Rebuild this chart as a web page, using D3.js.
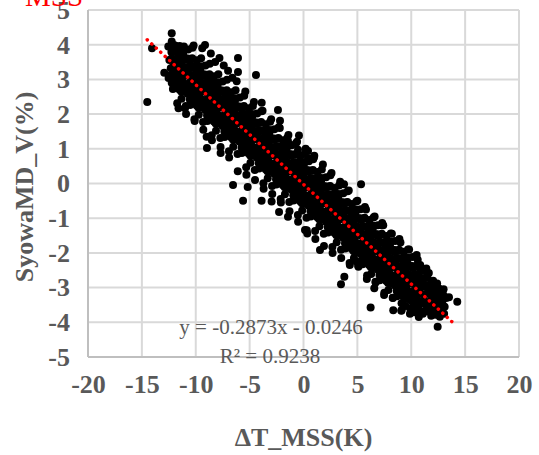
<!DOCTYPE html>
<html>
<head>
<meta charset="utf-8">
<script src="https://cdn.jsdelivr.net/npm/d3@7"></script>
<style>
  body { margin: 0; background: #fff; }
</style>
</head>
<body>
<script>
// tick values
var xTicks = [-20, -15, -10, -5, 0, 5, 10, 15, 20];
var yTicks = [-5, -4, -3, -2, -1, 0, 1, 2, 3, 4, 5];

// linear fit shown on the chart
var fitSlope = -0.2873;
var fitIntercept = -0.0246;
var fitR2 = 0.9238;
var fitRange = [-14.5, 14];

// dT_MSS (K), SyowaMD_V (%) - main band
var cloud = [
  [-12.52,3.04],[-12.32,3.32],[-12.45,3.56],[-12.26,3.79],[-12.55,3.95],
  [-12.12,2.72],[-11.92,3.04],[-12.05,3.30],[-11.86,3.54],[-12.15,3.78],[-11.97,3.98],
  [-11.72,2.31],[-11.52,2.71],[-11.65,3.01],[-11.46,3.26],[-11.75,3.49],[-11.57,3.73],[-11.50,3.96],
  [-11.32,2.44],[-11.12,2.74],[-11.25,3.04],[-11.06,3.27],[-11.35,3.49],[-11.17,3.74],[-11.10,3.95],
  [-10.92,2.23],[-10.72,2.58],[-10.85,2.86],[-10.66,3.10],[-10.95,3.33],[-10.77,3.56],[-10.70,3.86],
  [-10.52,2.26],[-10.32,2.58],[-10.45,2.84],[-10.26,3.08],[-10.55,3.32],[-10.37,3.58],[-10.30,3.91],
  [-10.12,1.85],[-9.92,2.25],[-10.05,2.55],[-9.86,2.80],[-10.15,3.03],[-9.97,3.27],[-9.90,3.55],
  [-9.72,1.98],[-9.52,2.28],[-9.65,2.58],[-9.46,2.81],[-9.75,3.03],[-9.57,3.28],[-9.50,3.61],
  [-9.32,1.77],[-9.12,2.12],[-9.25,2.40],[-9.06,2.64],[-9.35,2.87],[-9.17,3.10],[-9.10,3.40],
  [-8.92,1.80],[-8.72,2.12],[-8.85,2.38],[-8.66,2.62],[-8.95,2.86],[-8.77,3.12],[-8.70,3.45],
  [-8.52,1.39],[-8.32,1.79],[-8.45,2.09],[-8.26,2.34],[-8.55,2.57],[-8.37,2.81],[-8.30,3.09],
  [-8.12,1.52],[-7.92,1.82],[-8.05,2.12],[-7.86,2.35],[-8.15,2.57],[-7.97,2.82],[-7.90,3.15],
  [-7.72,1.31],[-7.52,1.66],[-7.65,1.94],[-7.46,2.18],[-7.75,2.41],[-7.57,2.64],[-7.50,2.94],
  [-7.32,1.34],[-7.12,1.66],[-7.25,1.92],[-7.06,2.16],[-7.35,2.40],[-7.17,2.66],[-7.10,2.99],
  [-6.92,0.93],[-6.72,1.33],[-6.85,1.63],[-6.66,1.88],[-6.95,2.11],[-6.77,2.35],[-6.70,2.63],
  [-6.52,1.06],[-6.32,1.36],[-6.45,1.66],[-6.26,1.89],[-6.55,2.11],[-6.37,2.36],[-6.30,2.69],
  [-6.12,0.85],[-5.92,1.20],[-6.05,1.48],[-5.86,1.72],[-6.15,1.95],[-5.97,2.18],[-5.90,2.48],
  [-5.72,0.88],[-5.52,1.20],[-5.65,1.46],[-5.46,1.70],[-5.75,1.94],[-5.57,2.20],[-5.50,2.53],
  [-5.32,0.47],[-5.12,0.87],[-5.25,1.17],[-5.06,1.42],[-5.35,1.65],[-5.17,1.89],[-5.10,2.17],
  [-4.92,0.60],[-4.72,0.90],[-4.85,1.20],[-4.66,1.43],[-4.95,1.65],[-4.77,1.90],[-4.70,2.23],
  [-4.52,0.39],[-4.32,0.74],[-4.45,1.02],[-4.26,1.26],[-4.55,1.49],[-4.37,1.72],[-4.30,2.02],
  [-4.12,0.43],[-3.92,0.75],[-4.05,1.01],[-3.86,1.25],[-4.15,1.49],[-3.97,1.75],[-3.90,2.08],
  [-3.72,0.01],[-3.52,0.41],[-3.65,0.71],[-3.46,0.96],[-3.75,1.19],[-3.57,1.43],[-3.50,1.71],
  [-3.32,0.15],[-3.12,0.45],[-3.25,0.75],[-3.06,0.98],[-3.35,1.20],[-3.17,1.45],[-3.10,1.78],
  [-2.92,-0.07],[-2.72,0.28],[-2.85,0.56],[-2.66,0.80],[-2.95,1.03],[-2.77,1.26],[-2.70,1.56],
  [-2.52,-0.03],[-2.32,0.29],[-2.45,0.55],[-2.26,0.79],[-2.55,1.03],[-2.37,1.29],[-2.30,1.62],
  [-2.12,-0.45],[-1.92,-0.05],[-2.05,0.25],[-1.86,0.50],[-2.15,0.73],[-1.97,0.97],[-1.90,1.25],
  [-1.72,-0.31],[-1.52,-0.01],[-1.65,0.29],[-1.46,0.52],[-1.75,0.74],[-1.57,0.99],[-1.50,1.32],
  [-1.32,-0.53],[-1.12,-0.18],[-1.25,0.10],[-1.06,0.34],[-1.35,0.57],[-1.17,0.80],[-1.10,1.10],
  [-0.92,-0.49],[-0.72,-0.17],[-0.85,0.09],[-0.66,0.33],[-0.95,0.57],[-0.77,0.83],[-0.70,1.16],
  [-0.52,-0.91],[-0.32,-0.51],[-0.45,-0.21],[-0.26,0.04],[-0.55,0.27],[-0.37,0.51],[-0.30,0.79],
  [-0.12,-0.78],[0.08,-0.48],[-0.05,-0.18],[0.14,0.05],[-0.15,0.27],[0.03,0.52],[0.10,0.85],
  [0.28,-0.99],[0.48,-0.64],[0.35,-0.36],[0.54,-0.12],[0.25,0.11],[0.43,0.34],[0.50,0.64],
  [0.68,-0.95],[0.88,-0.63],[0.75,-0.37],[0.94,-0.13],[0.65,0.11],[0.83,0.37],[0.90,0.70],
  [1.08,-1.37],[1.28,-0.97],[1.15,-0.67],[1.34,-0.42],[1.05,-0.19],[1.23,0.05],[1.30,0.33],
  [1.48,-1.23],[1.68,-0.93],[1.55,-0.63],[1.74,-0.40],[1.45,-0.18],[1.63,0.07],[1.70,0.40],
  [1.88,-1.45],[2.08,-1.10],[1.95,-0.82],[2.14,-0.58],[1.85,-0.35],[2.03,-0.12],[2.10,0.18],
  [2.28,-1.41],[2.48,-1.09],[2.35,-0.83],[2.54,-0.59],[2.25,-0.35],[2.43,-0.09],[2.50,0.24],
  [2.68,-1.83],[2.88,-1.43],[2.75,-1.13],[2.94,-0.88],[2.65,-0.65],[2.83,-0.41],[2.90,-0.13],
  [3.08,-1.69],[3.28,-1.39],[3.15,-1.09],[3.34,-0.86],[3.05,-0.64],[3.23,-0.39],[3.30,-0.06],
  [3.48,-1.91],[3.68,-1.56],[3.55,-1.28],[3.74,-1.04],[3.45,-0.81],[3.63,-0.58],[3.70,-0.28],
  [3.88,-1.87],[4.08,-1.55],[3.95,-1.29],[4.14,-1.05],[3.85,-0.81],[4.03,-0.55],[4.10,-0.22],
  [4.28,-2.29],[4.48,-1.89],[4.35,-1.59],[4.54,-1.34],[4.25,-1.11],[4.43,-0.87],[4.50,-0.59],
  [4.68,-2.15],[4.88,-1.85],[4.75,-1.55],[4.94,-1.32],[4.65,-1.10],[4.83,-0.85],[4.90,-0.52],
  [5.08,-2.37],[5.28,-2.02],[5.15,-1.74],[5.34,-1.50],[5.05,-1.27],[5.23,-1.04],[5.30,-0.74],
  [5.48,-2.33],[5.68,-2.01],[5.55,-1.75],[5.74,-1.51],[5.45,-1.27],[5.63,-1.01],[5.70,-0.68],
  [5.88,-2.75],[6.08,-2.35],[5.95,-2.05],[6.14,-1.80],[5.85,-1.57],[6.03,-1.33],[6.10,-1.05],
  [6.28,-2.61],[6.48,-2.31],[6.35,-2.01],[6.54,-1.78],[6.25,-1.56],[6.43,-1.31],[6.50,-0.98],
  [6.68,-2.83],[6.88,-2.48],[6.75,-2.20],[6.94,-1.96],[6.65,-1.73],[6.83,-1.50],[6.90,-1.20],
  [7.08,-2.79],[7.28,-2.47],[7.15,-2.21],[7.34,-1.97],[7.05,-1.73],[7.23,-1.47],[7.30,-1.14],
  [7.48,-3.21],[7.68,-2.81],[7.55,-2.51],[7.74,-2.26],[7.45,-2.03],[7.63,-1.79],[7.70,-1.51],
  [7.88,-3.07],[8.08,-2.77],[7.95,-2.47],[8.14,-2.24],[7.85,-2.02],[8.03,-1.77],[8.10,-1.44],
  [8.28,-3.29],[8.48,-2.94],[8.35,-2.66],[8.54,-2.42],[8.25,-2.19],[8.43,-1.96],[8.50,-1.66],
  [8.68,-3.25],[8.88,-2.93],[8.75,-2.67],[8.94,-2.43],[8.65,-2.19],[8.83,-1.93],[8.90,-1.60],
  [9.08,-3.67],[9.28,-3.27],[9.15,-2.97],[9.34,-2.72],[9.05,-2.49],[9.23,-2.25],[9.30,-1.97],
  [9.48,-3.53],[9.68,-3.23],[9.55,-2.93],[9.74,-2.70],[9.45,-2.48],[9.63,-2.23],[9.70,-1.90],
  [9.88,-3.75],[10.08,-3.40],[9.95,-3.12],[10.14,-2.88],[9.85,-2.65],[10.03,-2.42],[10.10,-2.12],
  [10.28,-3.71],[10.48,-3.39],[10.35,-3.13],[10.54,-2.89],[10.25,-2.65],[10.43,-2.39],[10.50,-2.06],
  [10.68,-3.75],[10.88,-3.40],[10.75,-3.15],[10.94,-2.90],[10.65,-2.65],[10.83,-2.35],
  [11.08,-3.75],[11.28,-3.48],[11.15,-3.22],[11.34,-2.98],[11.05,-2.75],[11.23,-2.52],
  [11.48,-3.68],[11.68,-3.42],[11.55,-3.18],[11.74,-2.95],[11.45,-2.72],[11.63,-2.58],
  [11.88,-3.70],[12.08,-3.45],[11.95,-3.22],[12.14,-2.98],[12.03,-2.80],
  [12.28,-3.72],[12.48,-3.48],[12.35,-3.25],[12.54,-3.02],[12.40,-2.88],
  [12.70,-3.70],[12.88,-3.45],[12.95,-3.20],
  [13.10,-3.55],[13.25,-3.30],[13.50,-3.28],[13.00,-3.05],
  // wider edges of the band
  [-10.90,2.00],[-10.20,3.98],[-10.10,1.80],[-9.40,3.90],[-9.30,1.55],[-8.60,3.75],[-8.50,1.25],
  [-7.80,3.62],[-7.70,1.05],[-8.20,3.50],[-7.00,3.25],[-6.90,0.75],[-7.40,3.40],[-6.20,2.95],
  [-6.10,0.35],[-6.60,3.05],[-5.40,2.65],[-5.30,0.25],[-4.60,2.35],[-4.50,0.10],[-3.80,2.10],
  [-3.70,-0.15],[-3.00,1.85],[-2.90,-0.30],[-2.20,1.60],[-2.10,-0.55],[-1.40,1.40],[-1.30,-0.80],
  [-0.60,1.20],[-0.50,-1.10],[0.20,1.00],[0.30,-1.35],[1.00,0.80],[1.10,-1.60],[1.80,0.55],
  [1.90,-1.80],[2.60,0.30],[2.70,-2.00],[3.40,0.05],[3.50,-2.15],[4.20,-0.20],[4.30,-2.35],
  [5.00,-0.50],[5.10,-2.40],[5.80,-0.75],[5.90,-2.65],[6.60,-0.95],[6.70,-2.85],[7.40,-1.20],
  [7.50,-3.15],[8.20,-1.45],[8.30,-3.30],[9.00,-1.70],[9.10,-3.45],[9.80,-1.90],[9.90,-3.60],
  [10.60,-2.20],[10.70,-3.85],[11.40,-2.45]
];

// dense core of the band
var core = [
  [-12.15,2.88],[-12.30,3.13],[-12.08,3.38],[-12.24,3.60],[-12.11,3.84],[-12.33,3.96],
  [-11.75,2.87],[-11.90,3.12],[-11.68,3.35],[-11.84,3.59],[-11.71,3.83],[-11.93,3.98],
  [-11.35,2.65],[-11.50,2.90],[-11.28,3.15],[-11.44,3.37],[-11.31,3.61],[-11.53,3.83],
  [-10.95,2.64],[-11.10,2.89],[-10.88,3.12],[-11.04,3.36],[-10.91,3.60],[-11.13,3.84],
  [-10.55,2.42],[-10.70,2.67],[-10.48,2.92],[-10.64,3.14],[-10.51,3.38],[-10.73,3.60],
  [-10.15,2.41],[-10.30,2.66],[-10.08,2.89],[-10.24,3.13],[-10.11,3.37],[-10.33,3.61],
  [-9.75,2.19],[-9.90,2.44],[-9.68,2.69],[-9.84,2.91],[-9.71,3.15],[-9.93,3.37],
  [-9.35,2.18],[-9.50,2.43],[-9.28,2.66],[-9.44,2.90],[-9.31,3.14],[-9.53,3.38],
  [-8.95,1.96],[-9.10,2.21],[-8.88,2.46],[-9.04,2.68],[-8.91,2.92],[-9.13,3.14],
  [-8.55,1.95],[-8.70,2.20],[-8.48,2.43],[-8.64,2.67],[-8.51,2.91],[-8.73,3.15],
  [-8.15,1.73],[-8.30,1.98],[-8.08,2.23],[-8.24,2.45],[-8.11,2.69],[-8.33,2.91],
  [-7.75,1.72],[-7.90,1.97],[-7.68,2.20],[-7.84,2.44],[-7.71,2.68],[-7.93,2.92],
  [-7.35,1.50],[-7.50,1.75],[-7.28,2.00],[-7.44,2.22],[-7.31,2.46],[-7.53,2.68],
  [-6.95,1.49],[-7.10,1.74],[-6.88,1.97],[-7.04,2.21],[-6.91,2.45],[-7.13,2.69],
  [-6.55,1.27],[-6.70,1.52],[-6.48,1.77],[-6.64,1.99],[-6.51,2.23],[-6.73,2.45],
  [-6.15,1.26],[-6.30,1.51],[-6.08,1.74],[-6.24,1.98],[-6.11,2.22],[-6.33,2.46],
  [-5.75,1.04],[-5.90,1.29],[-5.68,1.54],[-5.84,1.76],[-5.71,2.00],[-5.93,2.22],
  [-5.35,1.03],[-5.50,1.28],[-5.28,1.51],[-5.44,1.75],[-5.31,1.99],[-5.53,2.23],
  [-4.95,0.81],[-5.10,1.06],[-4.88,1.31],[-5.04,1.53],[-4.91,1.77],[-5.13,1.99],
  [-4.55,0.80],[-4.70,1.05],[-4.48,1.28],[-4.64,1.52],[-4.51,1.76],[-4.73,2.00],
  [-4.15,0.58],[-4.30,0.83],[-4.08,1.08],[-4.24,1.30],[-4.11,1.54],[-4.33,1.76],
  [-3.75,0.57],[-3.90,0.82],[-3.68,1.05],[-3.84,1.29],[-3.71,1.53],[-3.93,1.77],
  [-3.35,0.35],[-3.50,0.60],[-3.28,0.85],[-3.44,1.07],[-3.31,1.31],[-3.53,1.53],
  [-2.95,0.34],[-3.10,0.59],[-2.88,0.82],[-3.04,1.06],[-2.91,1.30],[-3.13,1.54],
  [-2.55,0.12],[-2.70,0.37],[-2.48,0.62],[-2.64,0.84],[-2.51,1.08],[-2.73,1.30],
  [-2.15,0.11],[-2.30,0.36],[-2.08,0.59],[-2.24,0.83],[-2.11,1.07],[-2.33,1.31],
  [-1.75,-0.11],[-1.90,0.14],[-1.68,0.39],[-1.84,0.61],[-1.71,0.85],[-1.93,1.07],
  [-1.35,-0.12],[-1.50,0.13],[-1.28,0.36],[-1.44,0.60],[-1.31,0.84],[-1.53,1.08],
  [-0.95,-0.34],[-1.10,-0.09],[-0.88,0.16],[-1.04,0.38],[-0.91,0.62],[-1.13,0.84],
  [-0.55,-0.35],[-0.70,-0.10],[-0.48,0.13],[-0.64,0.37],[-0.51,0.61],[-0.73,0.85],
  [-0.15,-0.57],[-0.30,-0.32],[-0.08,-0.07],[-0.24,0.15],[-0.11,0.39],[-0.33,0.61],
  [0.25,-0.58],[0.10,-0.33],[0.32,-0.10],[0.16,0.14],[0.29,0.38],[0.07,0.62],
  [0.65,-0.80],[0.50,-0.55],[0.72,-0.30],[0.56,-0.08],[0.69,0.16],[0.47,0.38],
  [1.05,-0.81],[0.90,-0.56],[1.12,-0.33],[0.96,-0.09],[1.09,0.15],[0.87,0.39],
  [1.45,-1.03],[1.30,-0.78],[1.52,-0.53],[1.36,-0.31],[1.49,-0.07],[1.27,0.15],
  [1.85,-1.04],[1.70,-0.79],[1.92,-0.56],[1.76,-0.32],[1.89,-0.08],[1.67,0.16],
  [2.25,-1.26],[2.10,-1.01],[2.32,-0.76],[2.16,-0.54],[2.29,-0.30],[2.07,-0.08],
  [2.65,-1.27],[2.50,-1.02],[2.72,-0.79],[2.56,-0.55],[2.69,-0.31],[2.47,-0.07],
  [3.05,-1.49],[2.90,-1.24],[3.12,-0.99],[2.96,-0.77],[3.09,-0.53],[2.87,-0.31],
  [3.45,-1.50],[3.30,-1.25],[3.52,-1.02],[3.36,-0.78],[3.49,-0.54],[3.27,-0.30],
  [3.85,-1.72],[3.70,-1.47],[3.92,-1.22],[3.76,-1.00],[3.89,-0.76],[3.67,-0.54],
  [4.25,-1.73],[4.10,-1.48],[4.32,-1.25],[4.16,-1.01],[4.29,-0.77],[4.07,-0.53],
  [4.65,-1.95],[4.50,-1.70],[4.72,-1.45],[4.56,-1.23],[4.69,-0.99],[4.47,-0.77],
  [5.05,-1.96],[4.90,-1.71],[5.12,-1.48],[4.96,-1.24],[5.09,-1.00],[4.87,-0.76],
  [5.45,-2.18],[5.30,-1.93],[5.52,-1.68],[5.36,-1.46],[5.49,-1.22],[5.27,-1.00],
  [5.85,-2.19],[5.70,-1.94],[5.92,-1.71],[5.76,-1.47],[5.89,-1.23],[5.67,-0.99],
  [6.25,-2.41],[6.10,-2.16],[6.32,-1.91],[6.16,-1.69],[6.29,-1.45],[6.07,-1.23],
  [6.65,-2.42],[6.50,-2.17],[6.72,-1.94],[6.56,-1.70],[6.69,-1.46],[6.47,-1.22],
  [7.05,-2.64],[6.90,-2.39],[7.12,-2.14],[6.96,-1.92],[7.09,-1.68],[6.87,-1.46],
  [7.45,-2.65],[7.30,-2.40],[7.52,-2.17],[7.36,-1.93],[7.49,-1.69],[7.27,-1.45],
  [7.85,-2.87],[7.70,-2.62],[7.92,-2.37],[7.76,-2.15],[7.89,-1.91],[7.67,-1.69],
  [8.25,-2.88],[8.10,-2.63],[8.32,-2.40],[8.16,-2.16],[8.29,-1.92],[8.07,-1.68],
  [8.65,-3.10],[8.50,-2.85],[8.72,-2.60],[8.56,-2.38],[8.69,-2.14],[8.47,-1.92],
  [9.05,-3.11],[8.90,-2.86],[9.12,-2.63],[8.96,-2.39],[9.09,-2.15],[8.87,-1.91],
  [9.45,-3.33],[9.30,-3.08],[9.52,-2.83],[9.36,-2.61],[9.49,-2.37],[9.27,-2.15],
  [9.85,-3.34],[9.70,-3.09],[9.92,-2.86],[9.76,-2.62],[9.89,-2.38],[9.67,-2.14],
  [10.25,-3.56],[10.10,-3.31],[10.32,-3.06],[10.16,-2.84],[10.29,-2.60],[10.07,-2.38],
  [10.65,-3.57],[10.50,-3.32],[10.72,-3.09],[10.56,-2.85],[10.69,-2.61],[10.47,-2.37],
  [11.05,-3.69],[10.90,-3.44],[11.12,-3.19],[10.96,-2.97],[11.09,-2.73],[10.87,-2.51],
  [11.45,-3.65],[11.30,-3.40],[11.52,-3.17],[11.36,-2.93],[11.49,-2.69],
  [11.85,-3.81],[11.70,-3.56],[11.92,-3.31],[11.76,-3.09],[11.89,-2.85],
  [12.25,-3.78],[12.10,-3.53],[12.32,-3.30],[12.16,-3.06],
  [12.65,-3.84],[12.50,-3.59],[12.72,-3.34],[12.56,-3.12],
  [13.05,-3.75],[12.90,-3.50],[13.12,-3.27]
];

// isolated points
var outliers = [
  [-14.50,2.35],[-14.06,3.90],[-12.23,4.33],[-12.23,4.09],[-12.92,3.19],[-12.23,2.90],
  [-11.60,2.17],[-11.00,2.17],[-9.14,3.99],[-6.08,3.62],[-6.08,3.21],[-4.41,3.13],
  [-8.96,1.02],[-7.69,0.88],[-8.99,1.35],[-3.88,2.33],[-2.37,2.12],[-2.18,1.81],
  [-1.44,1.22],[-0.42,1.38],[-0.51,0.97],[0.42,0.94],[0.97,0.76],[-6.54,-0.04],
  [-5.61,-0.50],[-5.18,-0.10],[-3.89,-0.50],[-2.96,-0.52],[-2.27,-0.82],[-1.44,-0.96],
  [0.35,-1.44],[3.76,-0.02],[5.34,-0.02],[0.45,0.73],[1.53,-1.92],[3.79,-2.69],
  [3.48,-2.90],[4.93,-2.25],[0.14,-1.34],[6.23,-3.57],[8.33,-3.65],[9.10,-3.65],
  [12.45,-4.13],[14.27,-3.41],[10.40,-2.11],[6.57,-3.02],[7.25,-1.20]
];

var W = 539, H = 455;
var grey = "#595959";
var serif = "'Liberation Serif', 'Times New Roman', serif";

var svg = d3.select("body")
    .append("svg")
    .attr("width", W)
    .attr("height", H);

var x = d3.scaleLinear().domain([-20, 20]).range([88, 519]);
var y = d3.scaleLinear().domain([-5, 5]).range([357, 10]);

// gridlines
svg.append("g")
    .selectAll("line")
    .data(xTicks.filter(function(d) { return d > -20; }))
    .enter()
    .append("line")
    .attr("x1", function(d) { return x(d); })
    .attr("x2", function(d) { return x(d); })
    .attr("y1", y(-5))
    .attr("y2", y(5))
    .attr("stroke", "#d9d9d9")
    .attr("stroke-width", 2);

svg.append("g")
    .selectAll("line")
    .data(yTicks.filter(function(d) { return d > -5; }))
    .enter()
    .append("line")
    .attr("x1", x(-20))
    .attr("x2", x(20))
    .attr("y1", function(d) { return y(d); })
    .attr("y2", function(d) { return y(d); })
    .attr("stroke", "#d9d9d9")
    .attr("stroke-width", 2);

// axis lines
svg.append("line")
    .attr("x1", x(-20)).attr("x2", x(-20))
    .attr("y1", y(5)).attr("y2", y(-5))
    .attr("stroke", "#bfbfbf").attr("stroke-width", 2);
svg.append("line")
    .attr("x1", x(-20)).attr("x2", x(20))
    .attr("y1", y(-5)).attr("y2", y(-5))
    .attr("stroke", "#bfbfbf").attr("stroke-width", 2);

// points
svg.append("g")
    .selectAll("circle")
    .data(cloud.concat(core, outliers))
    .enter()
    .append("circle")
    .attr("cx", function(d) { return x(d[0]); })
    .attr("cy", function(d) { return y(d[1]); })
    .attr("r", 4)
    .attr("fill", "#000");

// dotted trend line
var fitLine = d3.line()
    .x(function(d) { return x(d); })
    .y(function(d) { return y(fitSlope * d + fitIntercept); });

svg.append("path")
    .datum(fitRange)
    .attr("d", fitLine)
    .attr("fill", "none")
    .attr("stroke", "#ff0000")
    .attr("stroke-width", 3.5)
    .attr("stroke-linecap", "round")
    .attr("stroke-dasharray", "0.1 6");

// axes (labels only), plain hyphen for negatives
var plain = function(d) { return String(d); };
var xAxis = svg.append("g")
    .attr("transform", "translate(0," + y(-5) + ")")
    .call(d3.axisBottom(x).tickValues(xTicks).tickFormat(plain).tickSize(0).tickPadding(17.5));
var yAxis = svg.append("g")
    .attr("transform", "translate(" + x(-20) + ",0)")
    .call(d3.axisLeft(y).tickValues(yTicks).tickFormat(plain).tickSize(0).tickPadding(18));

[xAxis, yAxis].forEach(function(g) {
  g.select(".domain").remove();
  g.selectAll("text")
      .attr("fill", grey)
      .attr("font-family", serif)
      .attr("font-weight", "bold")
      .attr("font-size", "26px");
});

// axis titles
svg.append("text")
    .text("\u0394T_MSS(K)")
    .attr("x", (x(-20) + x(20)) / 2)
    .attr("y", 446)
    .attr("text-anchor", "middle")
    .attr("font-family", serif)
    .attr("font-weight", "bold")
    .attr("font-size", "26px")
    .attr("fill", grey);

svg.append("text")
    .text("SyowaMD_V(%)")
    .attr("transform", "translate(33,187) rotate(-90)")
    .attr("text-anchor", "middle")
    .attr("font-family", serif)
    .attr("font-weight", "bold")
    .attr("font-size", "26px")
    .attr("fill", grey);

// clipped title remnant at top
svg.append("text")
    .text("MSS")
    .attr("x", 25)
    .attr("y", 6)
    .attr("font-family", serif)
    .attr("font-size", "29px")
    .attr("fill", "#ff0000");

// fit equation
svg.append("text")
    .text("y = " + fitSlope + "x - " + Math.abs(fitIntercept))
    .attr("x", 271)
    .attr("y", 334)
    .attr("text-anchor", "middle")
    .attr("font-family", serif)
    .attr("font-size", "21px")
    .attr("fill", grey);

svg.append("text")
    .attr("x", 270)
    .attr("y", 363)
    .attr("text-anchor", "middle")
    .attr("font-family", serif)
    .attr("font-size", "21px")
    .attr("fill", grey)
    .text("R\u00b2 = " + fitR2);
</script>
</body>
</html>
